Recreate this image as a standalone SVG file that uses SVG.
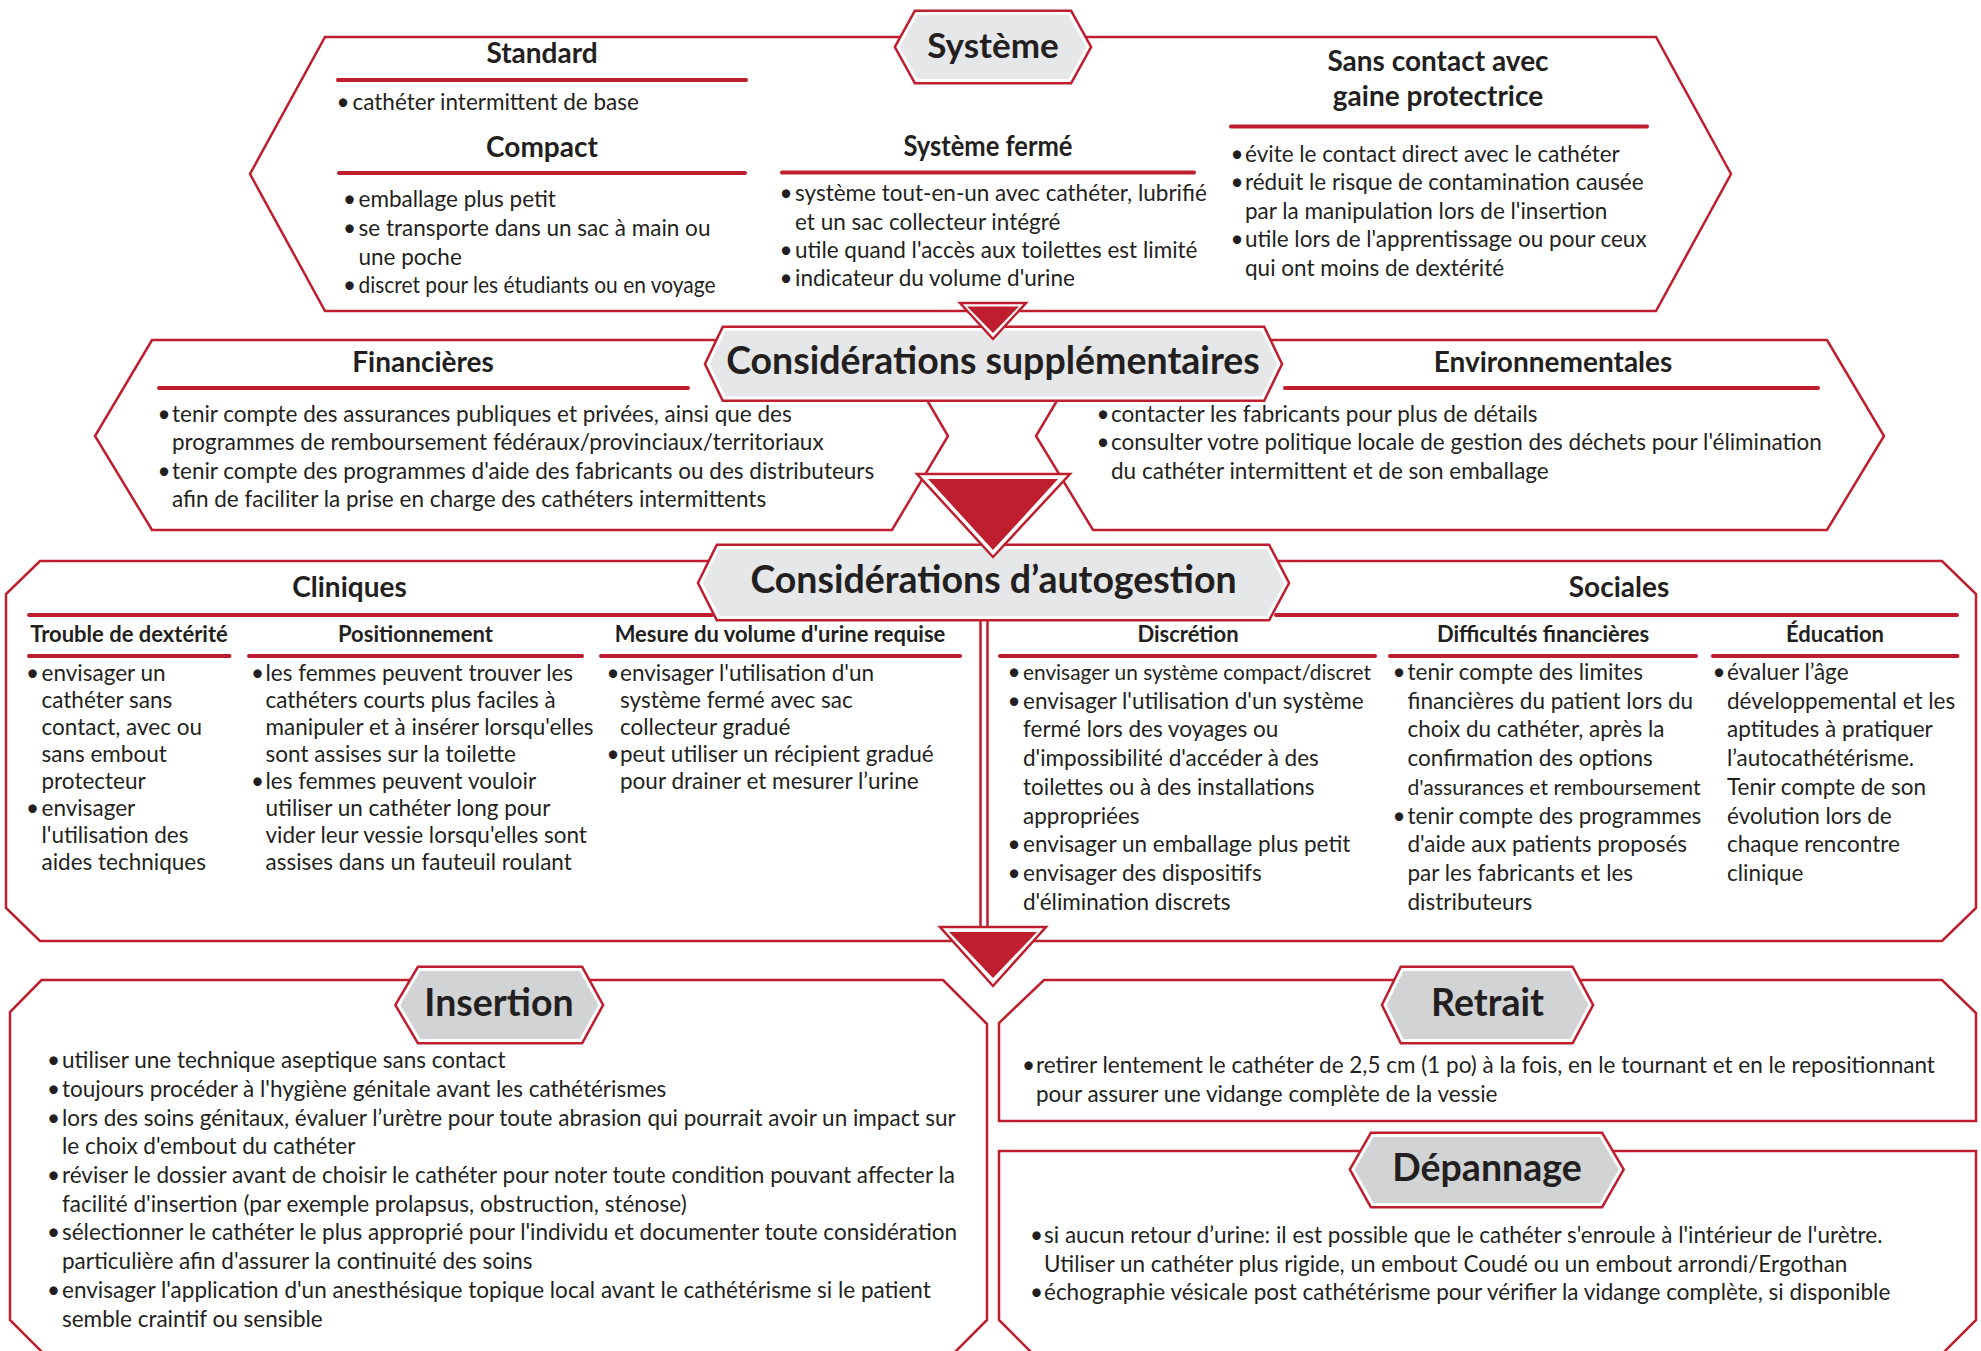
<svg xmlns="http://www.w3.org/2000/svg" width="1981" height="1351" viewBox="0 0 1981 1351">
<style>
.bg{fill:#fff}
.box{fill:#fff;stroke:#be1e2d;stroke-width:2.5;stroke-linejoin:miter}
.tagO{fill:none;stroke:#be1e2d;stroke-width:8;stroke-linejoin:miter}
.tagA{fill:#e6e7e8;stroke:#fff;stroke-width:3;stroke-linejoin:miter}
.tagB{fill:#d1d3d4;stroke:#fff;stroke-width:3;stroke-linejoin:miter}
.ul{stroke:#be1e2d;stroke-width:4;stroke-linecap:round}
.triO{fill:#fff;stroke:#be1e2d;stroke-width:2.5}
.triI{fill:#be1e2d}
.dl{stroke:#be1e2d;stroke-width:2.5}
text{font-family:Lato,"Open Sans",sans-serif;fill:#231f20}
.t{font-size:22.5px}
.h{font-size:28px;font-weight:700;text-anchor:middle}
.s{font-size:22px;font-weight:700;text-anchor:middle}
.tg{font-size:37.5px;font-weight:700;text-anchor:middle}
</style>
<rect class="bg" x="0" y="0" width="1981" height="1351"/>

<g id="systeme">
<polygon class="box" points="325,37 1656,37 1731,174 1656,311 325,311 250,174"/>
<line class="ul" x1="338" y1="80" x2="746" y2="80"/>
<line class="ul" x1="339" y1="173" x2="745" y2="173"/>
<line class="ul" x1="782" y1="172.5" x2="1194" y2="172.5"/>
<line class="ul" x1="1231" y1="126.5" x2="1647" y2="126.5"/>
<text class="h" x="542" y="63">Standard</text>
<text class="t" x="336.5" y="110">•</text><text class="t" x="352.5" y="110">cathéter intermittent de base</text>
<text class="h" x="542" y="157">Compact</text>
<text class="t" x="343" y="207">•</text><text class="t" x="358.5" y="207">emballage plus petit</text>
<text class="t" x="343" y="236">•</text><text class="t" x="358.5" y="236">se transporte dans un sac à main ou</text>
<text class="t" x="358.5" y="265">une poche</text>
<text class="t" x="343" y="293">•</text><text class="t" x="358.5" y="293" textLength="357" lengthAdjust="spacingAndGlyphs">discret pour les étudiants ou en voyage</text>
<text class="h" x="988" y="156" textLength="169" lengthAdjust="spacingAndGlyphs">Système fermé</text>
<text class="t" x="779.5" y="201">•</text><text class="t" x="795" y="201">système tout-en-un avec cathéter, lubrifié</text>
<text class="t" x="795" y="229.5">et un sac collecteur intégré</text>
<text class="t" x="779.5" y="257.5">•</text><text class="t" x="795" y="257.5">utile quand l'accès aux toilettes est limité</text>
<text class="t" x="779.5" y="286">•</text><text class="t" x="795" y="286">indicateur du volume d'urine</text>
<text class="h" x="1438" y="71">Sans contact avec</text>
<text class="h" x="1438" y="106">gaine protectrice</text>
<text class="t" x="1230.5" y="162">•</text><text class="t" x="1245" y="162">évite le contact direct avec le cathéter</text>
<text class="t" x="1230.5" y="190">•</text><text class="t" x="1245" y="190">réduit le risque de contamination causée</text>
<text class="t" x="1245" y="218.5">par la manipulation lors de l'insertion</text>
<text class="t" x="1230.5" y="247">•</text><text class="t" x="1245" y="247">utile lors de l'apprentissage ou pour ceux</text>
<text class="t" x="1245" y="276">qui ont moins de dextérité</text>
<polygon class="tagO" points="898,47 916.5,13.5 1069.5,13.5 1088,47 1069.5,80.5 916.5,80.5"/>
<polygon class="tagA" points="898,47 916.5,13.5 1069.5,13.5 1088,47 1069.5,80.5 916.5,80.5"/>
<text class="tg" x="993" y="58" style="font-size:35px">Système</text>
</g>

<g id="financieres">
<polygon class="box" points="152,340 892,340 948,436 892,530 152,530 95,436"/>
<line class="ul" x1="159" y1="388" x2="688" y2="388"/>
<text class="h" x="423" y="372">Financières</text>
<text class="t" x="157.5" y="421.5">•</text><text class="t" x="172" y="421.5">tenir compte des assurances publiques et privées, ainsi que des</text>
<text class="t" x="172" y="450">programmes de remboursement fédéraux/provinciaux/territoriaux</text>
<text class="t" x="157.5" y="478.5">•</text><text class="t" x="172" y="478.5">tenir compte des programmes d'aide des fabricants ou des distributeurs</text>
<text class="t" x="172" y="507">afin de faciliter la prise en charge des cathéters intermittents</text>
</g>

<g id="environnementales">
<polygon class="box" points="1093,340 1827,340 1884,436 1827,530 1093,530 1036,436"/>
<line class="ul" x1="1285" y1="388" x2="1818" y2="388"/>
<text class="h" x="1553" y="372">Environnementales</text>
<text class="t" x="1096.5" y="421.5">•</text><text class="t" x="1111" y="421.5">contacter les fabricants pour plus de détails</text>
<text class="t" x="1096.5" y="450">•</text><text class="t" x="1111" y="450">consulter votre politique locale de gestion des déchets pour l'élimination</text>
<text class="t" x="1111" y="478.5">du cathéter intermittent et de son emballage</text>
</g>

<g id="supplementaires">
<polygon class="tagO" points="708,364 724.5,329.5 1262.5,329.5 1279,364 1262.5,398 724.5,398"/>
<polygon class="tagA" points="708,364 724.5,329.5 1262.5,329.5 1279,364 1262.5,398 724.5,398"/>
<text class="tg" x="993" y="374">Considérations supplémentaires</text>
</g>

<g id="autogestion">
<polygon class="box" points="40,561 1942,561 1976,594 1976,908 1942,941 40,941 6,908 6,594"/>
<line class="ul" x1="29" y1="615" x2="712" y2="615"/>
<line class="ul" x1="1276" y1="615" x2="1957" y2="615"/>
<text class="h" x="349.5" y="597">Cliniques</text>
<text class="h" x="1619" y="597">Sociales</text>
<line class="ul" x1="29" y1="656" x2="229.5" y2="656"/>
<line class="ul" x1="249" y1="656" x2="582" y2="656"/>
<line class="ul" x1="601" y1="656" x2="960" y2="656"/>
<line class="ul" x1="1000" y1="656" x2="1375" y2="656"/>
<line class="ul" x1="1390" y1="656" x2="1696" y2="656"/>
<line class="ul" x1="1713" y1="656" x2="1957.5" y2="656"/>
<text class="s" x="129" y="642">Trouble de dextérité</text>
<text class="s" x="415.5" y="642">Positionnement</text>
<text class="s" x="780" y="642">Mesure du volume d'urine requise</text>
<text class="s" x="1188" y="642">Discrétion</text>
<text class="s" x="1543" y="642">Difficultés financières</text>
<text class="s" x="1835" y="642">Éducation</text>

<text class="t" x="26" y="681">•</text><text class="t" x="41.5" y="681">envisager un</text>
<text class="t" x="41.5" y="708">cathéter sans</text>
<text class="t" x="41.5" y="735">contact, avec ou</text>
<text class="t" x="41.5" y="762">sans embout</text>
<text class="t" x="41.5" y="789">protecteur</text>
<text class="t" x="26" y="816">•</text><text class="t" x="41.5" y="816">envisager</text>
<text class="t" x="41.5" y="843">l'utilisation des</text>
<text class="t" x="41.5" y="870">aides techniques</text>

<text class="t" x="251" y="681">•</text><text class="t" x="265.5" y="681">les femmes peuvent trouver les</text>
<text class="t" x="265.5" y="708">cathéters courts plus faciles à</text>
<text class="t" x="265.5" y="735">manipuler et à insérer lorsqu'elles</text>
<text class="t" x="265.5" y="762">sont assises sur la toilette</text>
<text class="t" x="251" y="789">•</text><text class="t" x="265.5" y="789">les femmes peuvent vouloir</text>
<text class="t" x="265.5" y="816">utiliser un cathéter long pour</text>
<text class="t" x="265.5" y="843">vider leur vessie lorsqu'elles sont</text>
<text class="t" x="265.5" y="870">assises dans un fauteuil roulant</text>

<text class="t" x="606.5" y="681">•</text><text class="t" x="620" y="681">envisager l'utilisation d'un</text>
<text class="t" x="620" y="708">système fermé avec sac</text>
<text class="t" x="620" y="735">collecteur gradué</text>
<text class="t" x="606.5" y="762">•</text><text class="t" x="620" y="762">peut utiliser un récipient gradué</text>
<text class="t" x="620" y="789">pour drainer et mesurer l’urine</text>

<text class="t" x="1007.5" y="680">•</text><text class="t" x="1023" y="680" style="font-size:21px" textLength="348" lengthAdjust="spacingAndGlyphs">envisager un système compact/discret</text>
<text class="t" x="1007.5" y="708.7">•</text><text class="t" x="1023" y="708.7">envisager l'utilisation d'un système</text>
<text class="t" x="1023" y="737.4">fermé lors des voyages ou</text>
<text class="t" x="1023" y="766.1">d'impossibilité d'accéder à des</text>
<text class="t" x="1023" y="794.8">toilettes ou à des installations</text>
<text class="t" x="1023" y="823.5">appropriées</text>
<text class="t" x="1007.5" y="852.2">•</text><text class="t" x="1023" y="852.2">envisager un emballage plus petit</text>
<text class="t" x="1007.5" y="880.9">•</text><text class="t" x="1023" y="880.9">envisager des dispositifs</text>
<text class="t" x="1023" y="909.6">d'élimination discrets</text>

<text class="t" x="1392.5" y="680">•</text><text class="t" x="1407.5" y="680">tenir compte des limites</text>
<text class="t" x="1407.5" y="708.7">financières du patient lors du</text>
<text class="t" x="1407.5" y="737.4">choix du cathéter, après la</text>
<text class="t" x="1407.5" y="766.1">confirmation des options</text>
<text class="t" x="1407.5" y="794.8" style="font-size:22px" textLength="293" lengthAdjust="spacingAndGlyphs">d'assurances et remboursement</text>
<text class="t" x="1392.5" y="823.5">•</text><text class="t" x="1407.5" y="823.5">tenir compte des programmes</text>
<text class="t" x="1407.5" y="852.2">d'aide aux patients proposés</text>
<text class="t" x="1407.5" y="880.9">par les fabricants et les</text>
<text class="t" x="1407.5" y="909.6">distributeurs</text>

<text class="t" x="1712.5" y="680">•</text><text class="t" x="1727" y="680">évaluer l’âge</text>
<text class="t" x="1727" y="708.7">développemental et les</text>
<text class="t" x="1727" y="737.4">aptitudes à pratiquer</text>
<text class="t" x="1727" y="766.1">l’autocathétérisme.</text>
<text class="t" x="1727" y="794.8">Tenir compte de son</text>
<text class="t" x="1727" y="823.5">évolution lors de</text>
<text class="t" x="1727" y="852.2">chaque rencontre</text>
<text class="t" x="1727" y="880.9">clinique</text>

<polygon class="tagO" points="701,583 718.5,547.5 1267.5,547.5 1286,583 1267.5,617.5 718.5,617.5"/>
<polygon class="tagA" points="701,583 718.5,547.5 1267.5,547.5 1286,583 1267.5,617.5 718.5,617.5"/>
<text class="tg" x="993.5" y="593">Considérations d’autogestion</text>
</g>

<g id="insertion">
<polygon class="box" points="41.5,980 943,980 987,1024 987,1320 950,1357 47,1357 10,1320 10,1012"/>
<text class="t" x="47" y="1068">•</text><text class="t" x="62" y="1068">utiliser une technique aseptique sans contact</text>
<text class="t" x="47" y="1097">•</text><text class="t" x="62" y="1097">toujours procéder à l'hygiène génitale avant les cathétérismes</text>
<text class="t" x="47" y="1126">•</text><text class="t" x="62" y="1126">lors des soins génitaux, évaluer l’urètre pour toute abrasion qui pourrait avoir un impact sur</text>
<text class="t" x="62" y="1154">le choix d'embout du cathéter</text>
<text class="t" x="47" y="1183">•</text><text class="t" x="62" y="1183">réviser le dossier avant de choisir le cathéter pour noter toute condition pouvant affecter la</text>
<text class="t" x="62" y="1212">facilité d'insertion (par exemple prolapsus, obstruction, sténose)</text>
<text class="t" x="47" y="1240">•</text><text class="t" x="62" y="1240">sélectionner le cathéter le plus approprié pour l'individu et documenter toute considération</text>
<text class="t" x="62" y="1269">particulière afin d'assurer la continuité des soins</text>
<text class="t" x="47" y="1298">•</text><text class="t" x="62" y="1298">envisager l'application d'un anesthésique topique local avant le cathétérisme si le patient</text>
<text class="t" x="62" y="1327">semble craintif ou sensible</text>
<polygon class="tagO" points="398.5,1005 419.5,969.5 580.5,969.5 600,1005 580.5,1040.5 419.5,1040.5"/>
<polygon class="tagB" points="398.5,1005 419.5,969.5 580.5,969.5 600,1005 580.5,1040.5 419.5,1040.5"/>
<text class="tg" x="499" y="1016">Insertion</text>
</g>

<g id="retrait">
<polygon class="box" points="1044,980 1942,980 1976,1013 1976,1121 999,1121 999,1023"/>
<text class="t" x="1022" y="1073">•</text><text class="t" x="1036" y="1073">retirer lentement le cathéter de 2,5 cm (1 po) à la fois, en le tournant et en le repositionnant</text>
<text class="t" x="1036" y="1101.5">pour assurer une vidange complète de la vessie</text>
<polygon class="tagO" points="1385,1005 1402.5,969.5 1571,969.5 1590,1005 1571,1040.5 1402.5,1040.5"/>
<polygon class="tagB" points="1385,1005 1402.5,969.5 1571,969.5 1590,1005 1571,1040.5 1402.5,1040.5"/>
<text class="tg" x="1487.5" y="1016">Retrait</text>
</g>

<g id="depannage">
<polygon class="box" points="999,1151 1976,1151 1976,1320 1939,1357 1036,1357 999,1320"/>
<text class="t" x="1030" y="1242.5">•</text><text class="t" x="1044" y="1242.5">si aucun retour d’urine: il est possible que le cathéter s'enroule à l'intérieur de l'urètre.</text>
<text class="t" x="1044" y="1271.5">Utiliser un cathéter plus rigide, un embout Coudé ou un embout arrondi/Ergothan</text>
<text class="t" x="1030" y="1300">•</text><text class="t" x="1044" y="1300">échographie vésicale post cathétérisme pour vérifier la vidange complète, si disponible</text>
<polygon class="tagO" points="1353,1169.5 1372.5,1135.5 1600.5,1135.5 1620.5,1169.5 1600.5,1204.5 1372.5,1204.5"/>
<polygon class="tagB" points="1353,1169.5 1372.5,1135.5 1600.5,1135.5 1620.5,1169.5 1600.5,1204.5 1372.5,1204.5"/>
<text class="tg" x="1487" y="1181">Dépannage</text>
</g>

<g id="connecteurs">
<polygon class="triO" points="960,303 1026,303 993,339"/>
<polygon class="triI" points="967,306.5 1019,306.5 993,333"/>
<polygon class="triO" points="917,474 1070,474 993,557"/>
<polygon class="triI" points="928,479 1058,479 993,550"/>
<line class="dl" x1="980.5" y1="620" x2="980.5" y2="927"/>
<line class="dl" x1="987.5" y1="620" x2="987.5" y2="927"/>
<polygon class="triO" points="940,927 1046,927 993,986"/>
<polygon class="triI" points="949,932 1037,932 993,978"/>
</g>
</svg>
